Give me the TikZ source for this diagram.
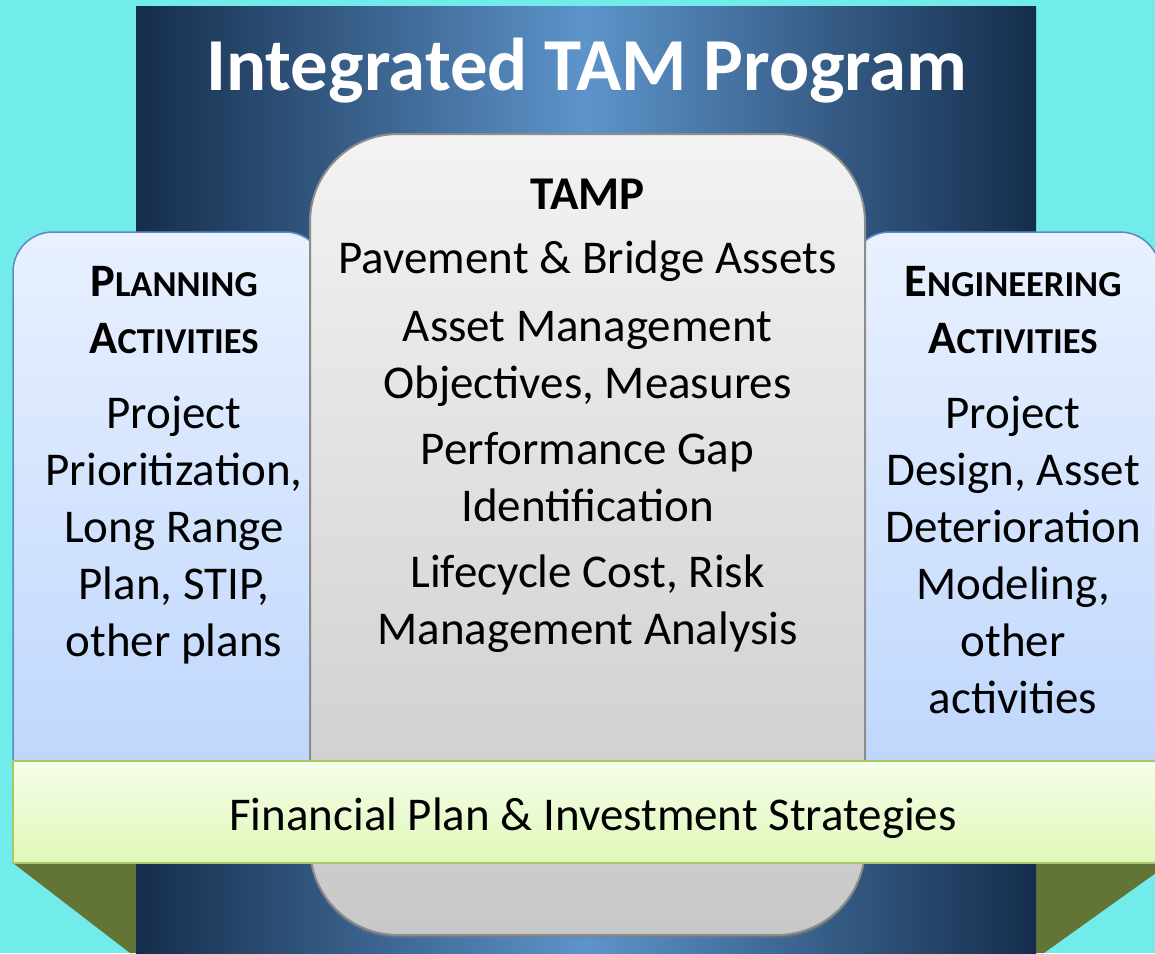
\documentclass[tikz,border=0pt]{standalone}
\usepackage{fontspec}
\setmainfont{Carlito}
\usepackage{tikz}
\usetikzlibrary{shadows}

\definecolor{skycyan}{RGB}{114,236,235}
\definecolor{navydark}{RGB}{21,45,76}
\definecolor{navylight}{RGB}{93,148,202}
\definecolor{paletop}{RGB}{233,241,254}
\definecolor{palebot}{RGB}{188,213,253}
\definecolor{paleedge}{RGB}{92,137,198}
\definecolor{greytop}{RGB}{243,243,243}
\definecolor{greybot}{RGB}{200,200,200}
\definecolor{greyedge}{RGB}{140,140,140}
\definecolor{limetop}{RGB}{245,253,234}
\definecolor{limebot}{RGB}{224,248,184}
\definecolor{limeedge}{RGB}{166,201,104}
\definecolor{foldolive}{RGB}{99,116,55}

\tikzset{
  backpanel/.style={left color=navydark,right color=navydark,middle color=navylight},
  sidebox/.style={draw=paleedge,line width=1.5pt,top color=paletop,bottom color=palebot,rounded corners=40pt},
  corebox/.style={draw=greyedge,line width=2pt,top color=greytop,bottom color=greybot,rounded corners=88pt,
    drop shadow={shadow xshift=0pt,shadow yshift=-3pt,opacity=0.4}},
  fundbar/.style={draw=limeedge,line width=2pt,top color=limetop,bottom color=limebot},
  fold/.style={fill=foldolive},
  bodytext/.style={align=center,inner sep=0pt,font=\fontsize{47}{57}\selectfont},
  titletext/.style={text=white,inner sep=0pt,font=\fontsize{74.8}{88}\selectfont\bfseries}
}
% bold heading with a large first letter and small capitals after it
\newcommand\capshead[2]{{\bfseries\fontsize{46.5}{57}\selectfont #1\fontsize{36.5}{57}\selectfont #2}}

\begin{document}
\begin{tikzpicture}[x=1pt,y=-1pt]
    \useasboundingbox (0,0) rectangle (1155,953);
    \clip (0,0) rectangle (1155,953);
    \fill[skycyan] (0,0) rectangle (1155,953);

    % folds under the bar
    \fill[fold] (13,863) -- (150,863) -- (150,953) -- (130,953) -- cycle;
    \fill[fold] (1020,863) -- (1160,863) -- (1160,870) -- (1044,953) -- (1020,953) -- cycle;

    % back panel
    \fill[backpanel] (136,6) rectangle (1036,960);

    % side columns, then the core column
    \foreach \xa/\xb in {13/325,850/1160}
        \draw[sidebox] (\xa,800) rectangle (\xb,232);
    \draw[corebox] (310,134) rectangle (865,935);
    \draw[fundbar] (13,761) rectangle (1165,863);

    \node[titletext,anchor=base] (title) at (587,90) {Integrated TAM Program};
    \node[bodytext,anchor=north] (tamp) at (587.5,178.5) {{\bfseries TAMP}\\[7pt]
        Pavement \& Bridge Assets\\[11pt]
        Asset Management\\ Objectives, Measures\\[9pt]
        Performance Gap\\ Identification\\[9pt]
        Lifecycle Cost, Risk\\ Management Analysis};
    \node[bodytext,anchor=north] (planning) at (174,266) {\capshead{P}{LANNING}\\ \capshead{A}{CTIVITIES}\\[18pt]
        Project\\ Prioritization,\\ Long Range\\ Plan, STIP,\\ other plans};
    \node[bodytext,anchor=north] (engineering) at (1013,266) {\capshead{E}{NGINEERING}\\ \capshead{A}{CTIVITIES}\\[18pt]
        Project\\ Design, Asset\\ Deterioration\\ Modeling,\\ other\\ activities};
    \node[bodytext,anchor=base] (finance) at (593,830) {Financial Plan \& Investment Strategies};
\end{tikzpicture}
\end{document}
